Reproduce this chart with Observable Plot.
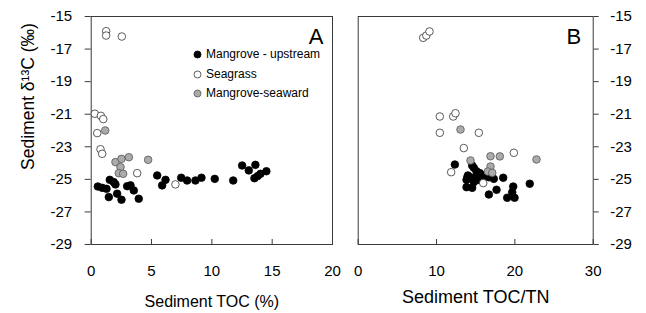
<!DOCTYPE html>
<html>
<head>
<meta charset="utf-8">
<script src="https://cdn.jsdelivr.net/npm/d3@7"></script>
<script src="https://cdn.jsdelivr.net/npm/@observablehq/plot@0.6"></script>
<style>
  body { margin: 0; background: #fff; }
  #chart { position: relative; width: 646px; height: 313px; font-family: Arial, "Liberation Sans", sans-serif; }
  #chart > svg { position: absolute; top: 0; }
  .legend { position: absolute; left: 193px; top: 45px; font-size: 12px; color: #000; line-height: 19.5px; }
  .legend .row { display: flex; align-items: center; height: 19.5px; white-space: nowrap; }
  .legend svg { margin-right: 4px; }
</style>
</head>
<body>
<div id="chart"></div>
<script>
// ---------- data ----------
const seriesNames = ["Mangrove - upstream", "Seagrass", "Mangrove-seaward"];
const yTicks = [-15, -17, -19, -21, -23, -25, -27, -29];
const xTicksA = [0, 5, 10, 15, 20];
const xTicksB = [0, 10, 20, 30];
const yLabel = "Sediment δ¹³C (‰)";
const xLabelA = "Sediment TOC (%)";
const xLabelB = "Sediment TOC/TN";

// Panel A: [TOC %, δ13C]
const upstreamA = [[0.55,-25.44],[0.91,-25.52],[1.27,-25.58],[1.54,-25.03],[1.87,-25.17],[2.01,-25.31],[1.46,-26.09],[2.15,-25.88],[2.51,-26.25],[2.98,-25.42],[3.26,-25.37],[3.53,-25.68],[3.94,-26.19],[5.47,-24.76],[6.16,-25.03],[5.88,-25.37],[7.46,-24.9],[7.95,-25.07],[8.64,-25.07],[9.14,-24.9],[10.24,-24.97],[11.77,-25.07],[12.51,-24.15],[13.06,-24.45],[13.61,-24.11],[14.03,-24.66],[13.53,-24.93],[14.52,-24.5],[13.8,-24.8]];
const seagrassA = [[1.24,-15.9],[1.24,-16.17],[2.54,-16.23],[0.3,-20.97],[0.8,-21.1],[1.0,-21.3],[0.5,-22.16],[0.77,-23.15],[0.91,-23.43],[3.81,-24.62],[6.98,-25.31]];
const seawardA = [[1.16,-22.0],[2.01,-23.94],[2.51,-23.74],[3.12,-23.64],[2.43,-24.25],[2.29,-24.62],[2.65,-24.66],[4.72,-23.8]];

// Panel B: [TOC/TN, δ13C]
const upstreamB = [[12.34,-24.09],[13.92,-24.9],[13.83,-25.48],[14.55,-25.52],[14.55,-24.15],[14.0,-24.76],[14.76,-24.29],[15.1,-24.5],[15.52,-24.62],[15.83,-24.72],[16.25,-24.82],[16.68,-24.87],[17.31,-24.97],[15.1,-24.82],[14.34,-24.87],[13.83,-25.03],[14.76,-25.17],[15.4,-25.03],[18.51,-24.9],[17.66,-25.64],[16.68,-25.93],[19.79,-25.44],[19.66,-25.79],[19.02,-26.13],[19.96,-26.13],[21.9,-25.27]];
const seagrassB = [[8.3,-16.31],[8.7,-16.17],[9.1,-15.92],[10.42,-21.14],[12.13,-21.14],[12.42,-20.94],[10.42,-22.14],[15.4,-22.14],[13.48,-23.08],[19.87,-23.37],[11.87,-24.56],[15.96,-25.23]];
const seawardB = [[13.06,-21.94],[14.34,-23.84],[16.89,-23.58],[18.08,-23.59],[16.89,-24.21],[16.55,-24.52],[17.11,-24.6],[22.76,-23.78]];

// ---------- styles ----------
const FONT = 'Arial, "Liberation Sans", sans-serif';
const AXIS = "#3a3a3a";
const dotStyles = [
  {fill: "#000", stroke: "#000"},
  {fill: "#fff", stroke: "#333"},
  {fill: "#ababab", stroke: "#555"}
];
const H = 313, TOP = 16, BOTTOM = 69, FRAME_H = H - TOP - BOTTOM;

function dots(series) {
  return series.map((data, i) => Plot.dot(data, {x: d => d[0], y: d => d[1], r: 3.8, strokeWidth: 0.8, ...dotStyles[i]}));
}

const plotA = Plot.plot({
  width: 340, height: H,
  marginLeft: 90.7, marginRight: 8, marginTop: TOP, marginBottom: BOTTOM,
  style: {fontFamily: FONT, fontSize: "15px", color: "#000", background: "transparent", overflow: "visible"},
  x: {domain: [0, 20]},
  y: {domain: [-29, -15]},
  marks: [
    Plot.frame({stroke: AXIS}),
    Plot.axisY(yTicks, {tickSize: 6, tickPadding: 13, tickFormat: d => String(d), label: null, stroke: AXIS}),
    Plot.axisX(xTicksA, {tickSize: 0, tickPadding: 21, tickFormat: d => String(d), label: null}),
    Plot.tickX(xTicksA, {x: d => d, insetTop: FRAME_H - 5, stroke: AXIS}),
    ...dots([upstreamA, seagrassA, seawardA]),
    Plot.text([yLabel], {text: d => d, frameAnchor: "left", textAnchor: "middle", rotate: -90, dx: -63, dy: -34, fontSize: 17.5, lineAnchor: "middle", fill: "#000"}),
    Plot.text([xLabelA], {text: d => d, frameAnchor: "bottom", dy: 62, fontSize: 16, lineAnchor: "bottom", fill: "#000"}),
    Plot.text(["A"], {text: d => d, frameAnchor: "top-right", textAnchor: "end", dx: -9, dy: 27, fontSize: 22, lineAnchor: "bottom", fill: "#000"})
  ]
});

const plotB = Plot.plot({
  width: 306, height: H,
  marginLeft: 17.7, marginRight: 53.3, marginTop: TOP, marginBottom: BOTTOM,
  style: {fontFamily: FONT, fontSize: "15px", color: "#000", background: "transparent", overflow: "visible"},
  x: {domain: [0, 30]},
  y: {domain: [-29, -15]},
  marks: [
    Plot.frame({stroke: AXIS}),
    Plot.axisY(yTicks, {anchor: "right", tickSize: 5, tickPadding: 12, tickFormat: d => String(d), label: null, stroke: AXIS}),
    Plot.axisX(xTicksB, {tickSize: 0, tickPadding: 21, tickFormat: d => String(d), label: null}),
    Plot.tickX(xTicksB, {x: d => d, insetTop: FRAME_H - 5, stroke: AXIS}),
    ...dots([upstreamB, seagrassB, seawardB]),
    Plot.text([xLabelB], {text: d => d, frameAnchor: "bottom", dy: 58, fontSize: 18, lineAnchor: "bottom", fill: "#000"}),
    Plot.text(["B"], {text: d => d, frameAnchor: "top-right", textAnchor: "end", dx: -12, dy: 27, fontSize: 22, lineAnchor: "bottom", fill: "#000"})
  ]
});

const chart = document.getElementById("chart");
plotA.style.left = "0px";
plotB.style.left = "340px";
chart.appendChild(plotA);
chart.appendChild(plotB);

// legend (panel A)
const legend = document.createElement("div");
legend.className = "legend";
seriesNames.forEach((name, i) => {
  const row = document.createElement("div");
  row.className = "row";
  const s = dotStyles[i];
  row.innerHTML = `<svg width="9" height="9"><circle cx="4.5" cy="4.5" r="3.5" fill="${s.fill}" stroke="${s.stroke}" stroke-width="0.8"/></svg><span>${name}</span>`;
  legend.appendChild(row);
});
chart.appendChild(legend);
</script>
</body>
</html>
